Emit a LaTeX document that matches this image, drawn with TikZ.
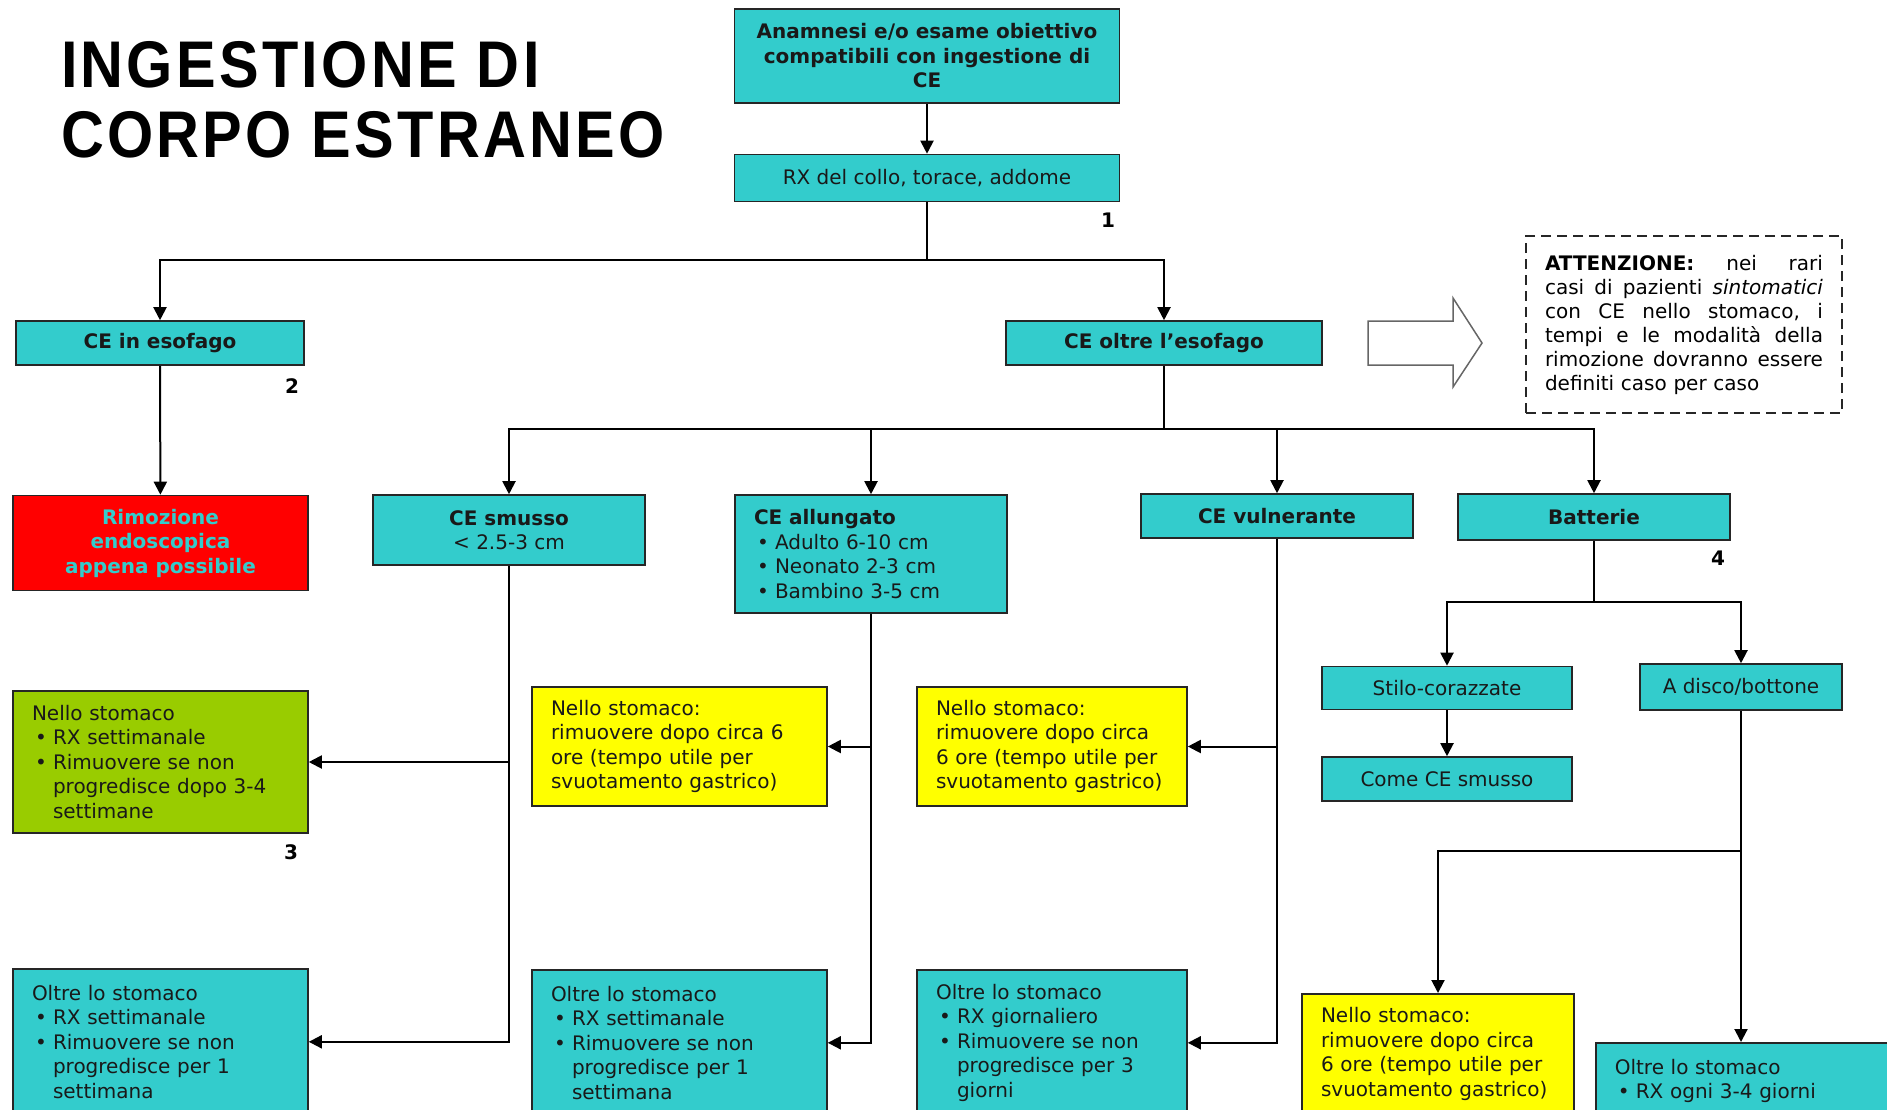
\documentclass[tikz,border=0pt]{standalone}
\usepackage{fontspec}
\setmainfont{DejaVu Sans}
\newfontfamily\titlefont[FakeStretch=0.9, LetterSpace=5]{Liberation Sans}
\usetikzlibrary{arrows.meta}

\definecolor{cebox}{RGB}{51,204,204}
\definecolor{stomaco}{RGB}{255,255,0}
\definecolor{settimane}{RGB}{153,204,0}
\definecolor{urgente}{RGB}{255,0,0}

\newcommand{\bodyfont}{\fontsize{20}{24.5}\selectfont}
\newcommand{\bl}{\makebox[21pt][l]{\hspace{3pt}\textbullet}}
\newcommand{\ind}{\hspace*{21pt}}
\newcommand{\riga}[1]{\makebox[278pt][l]{#1}}

\begin{document}
\begin{tikzpicture}[
    x = 1pt, y = -1pt, % one unit per pixel, y going down
    ->, % Arrow style
    > = {Triangle[length=13pt, width=13pt]}, % arrow head style
    line width = 2pt, % line style
    font = \bodyfont
  ]

  \tikzstyle{box}=[rectangle, draw=black!85, line width=1.6pt, fill=cebox, text=black!90, inner xsep=19pt, inner ysep=0pt, align=center]
  \tikzstyle{leftbox}=[box, align=left]
  \tikzstyle{num}=[font=\bodyfont\bfseries]
  \tikzstyle{bigtitle}=[anchor=base west, inner sep=0pt, font=\titlefont\bfseries\fontsize{66}{70}\selectfont]

  \useasboundingbox (0,0) rectangle (1887,1109);
  \clip (0,0) rectangle (1887,1109);

  \node[bigtitle] (title1) at (60,87) {INGESTIONE DI};
  \node[bigtitle] (title2) at (60,157) {CORPO ESTRANEO};

  \node[box, minimum width=385pt, minimum height=94pt, font=\bodyfont\bfseries] (anamnesi) at (927,56) {Anamnesi e/o esame obiettivo\\compatibili con ingestione di\\CE};
  \node[box, minimum width=385pt, minimum height=47pt] (rx) at (927,178) {RX del collo, torace, addome};
  \node[num] (n1) at (1108,220) {1};

  \node[box, minimum width=288pt, minimum height=44pt, font=\bodyfont\bfseries] (esofago) at (160,343) {CE in esofago};
  \node[box, minimum width=316pt, minimum height=44pt, font=\bodyfont\bfseries] (oltre) at (1164,343) {CE oltre l’esofago};
  \node[num] (n2) at (292,386) {2};

  \node[box, fill=urgente, text=cebox, minimum width=295pt, minimum height=95pt, font=\bodyfont\bfseries] (rimozione) at (160.5,543) {Rimozione\\endoscopica\\appena possibile};

  \node[box, minimum width=272pt, minimum height=70pt] (smusso) at (509,530) {\textbf{CE smusso}\\< 2.5-3 cm};
  \node[leftbox, text width=234pt, minimum height=118pt] (allungato) at (871,554) {\textbf{CE allungato}\\\bl Adulto 6-10 cm\\\bl Neonato 2-3 cm\\\bl Bambino 3-5 cm};
  \node[box, minimum width=272pt, minimum height=44pt, font=\bodyfont\bfseries] (vulnerante) at (1277,516) {CE vulnerante};
  \node[box, minimum width=272pt, minimum height=46pt, font=\bodyfont\bfseries] (batterie) at (1594,517) {Batterie};
  \node[num] (n4) at (1718,558) {4};

  \node[box, minimum width=250pt, minimum height=43pt] (stilo) at (1447,688) {Stilo-corazzate};
  \node[box, minimum width=250pt, minimum height=44pt] (come) at (1447,779) {Come CE smusso};
  \node[box, minimum width=202pt, minimum height=46pt] (disco) at (1741,687) {A disco/bottone};

  \node[leftbox, fill=settimane, text width=257pt, minimum height=142pt] (verde) at (160.5,762) {Nello stomaco\\\bl RX settimanale\\\bl Rimuovere se non\\\ind progredisce dopo 3-4\\\ind settimane};
  \node[num] (n3) at (291,852) {3};
  \node[leftbox, fill=stomaco, text width=257pt, minimum height=119pt] (giallo1) at (679.5,746.5) {Nello stomaco:\\rimuovere dopo circa 6\\ore (tempo utile per\\svuotamento gastrico)};
  \node[leftbox, fill=stomaco, text width=232pt, minimum height=119pt] (giallo2) at (1052,746.5) {Nello stomaco:\\rimuovere dopo circa\\6 ore (tempo utile per\\svuotamento gastrico)};

  \node[leftbox, anchor=north, text width=257pt, minimum height=146pt] (dopo1) at (160.5,968) {Oltre lo stomaco\\\bl RX settimanale\\\bl Rimuovere se non\\\ind progredisce per 1\\\ind settimana};
  \node[leftbox, anchor=north, text width=257pt, minimum height=146pt] (dopo2) at (679.5,969) {Oltre lo stomaco\\\bl RX settimanale\\\bl Rimuovere se non\\\ind progredisce per 1\\\ind settimana};
  \node[leftbox, anchor=north, text width=232pt, minimum height=146pt] (dopo3) at (1052,969) {Oltre lo stomaco\\\bl RX giornaliero\\\bl Rimuovere se non\\\ind progredisce per 3\\\ind giorni};
  \node[leftbox, anchor=north, fill=stomaco, text width=234pt, minimum height=120pt] (giallo3) at (1438,993) {Nello stomaco:\\rimuovere dopo circa\\6 ore (tempo utile per\\svuotamento gastrico)};
  \node[leftbox, anchor=north west, text width=262pt, minimum height=76pt] (dopo4) at (1595,1042) {Oltre lo stomaco\\\bl RX ogni 3-4 giorni};

  \node[draw=black!85, dash pattern=on 10pt off 6pt, line width=1.3pt, minimum width=316pt, minimum height=177pt, inner sep=0pt, text width=278pt, align=left, font=\fontsize{20}{24}\selectfont] (attenzione) at (1684,324.5) {%
    \riga{\textbf{ATTENZIONE:}\hfill nei\hfill rari}\\
    \riga{casi\hfill di\hfill pazienti\hfill \textit{sintomatici}}\\
    \riga{con\hfill CE\hfill nello\hfill stomaco,\hfill i}\\
    \riga{tempi\hfill e\hfill le\hfill modalità\hfill della}\\
    \riga{rimozione\hfill dovranno\hfill essere}\\
    definiti caso per caso};

  % hollow arrow towards the note
  \draw[-, draw=black!60, line width=1.5pt] (1368,321) -- (1453,321) -- (1453,298) -- (1482,343) -- (1453,387) -- (1453,365) -- (1368,365) -- cycle;

  \coordinate (j1) at (927,260);
  \coordinate (j2) at (1164,429);
  \coordinate (j3) at (1594,602);
  \coordinate (j4) at (1741,851);

  \draw (anamnesi) -- (rx);
  \draw[-] (rx) -- (j1);
  \draw (j1) -| (esofago);
  \draw (j1) -| (oltre);
  \draw (esofago) -- (rimozione);

  \draw[-] (oltre) -- (j2);
  \draw (j2) -| (smusso);
  \draw (j2) -| (allungato);
  \draw (j2) -| (vulnerante);
  \draw (j2) -| (batterie);

  \draw (smusso) |- (verde);
  \draw (smusso) |- (dopo1);
  \draw (allungato) |- (giallo1);
  \draw (allungato) |- (dopo2);
  \draw (vulnerante) |- (giallo2);
  \draw (vulnerante) |- (dopo3);

  \draw[-] (batterie) -- (j3);
  \draw (j3) -| (stilo);
  \draw (j3) -| (disco);
  \draw (stilo) -- (come);
  \draw (disco) -- (disco |- dopo4.north);
  \draw (j4) -| (giallo3);

\end{tikzpicture}
\end{document}
